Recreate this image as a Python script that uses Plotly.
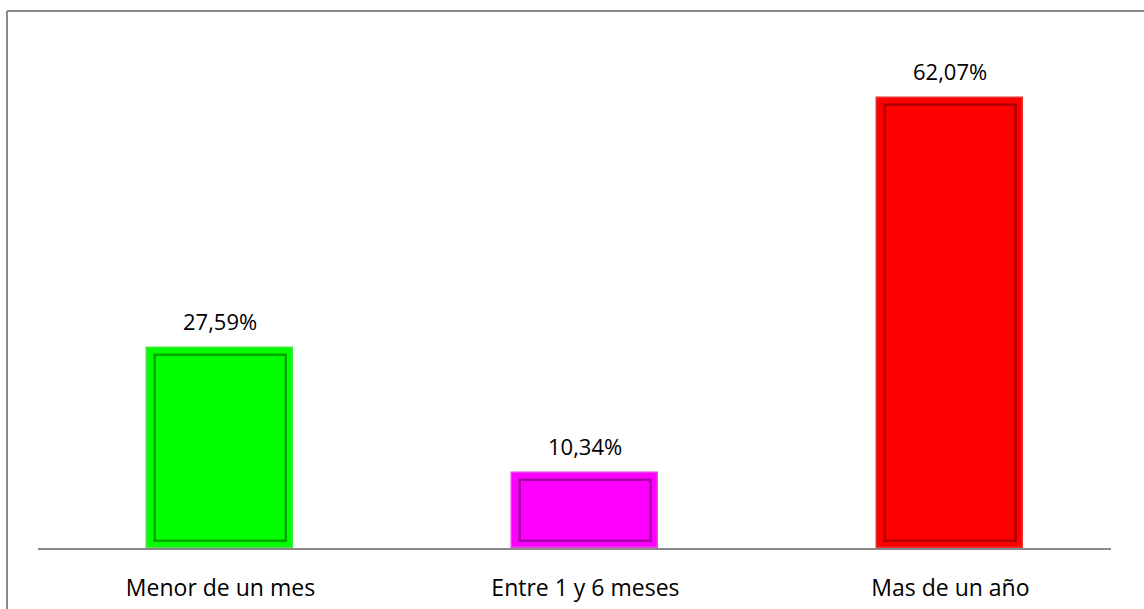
import plotly.graph_objects as go

categories = ["Menor de un mes", "Entre 1 y 6 meses", "Mas de un año"]
values = [27.59, 10.34, 62.07]
labels = ["27,59%", "10,34%", "62,07%"]
fill_colors = ["#00FF00", "#FF00FF", "#FF0000"]
edge_colors = ["#00A800", "#A800A8", "#B00000"]
rim_colors = ["#40E840", "#E840E8", "#E83030"]

Y_MIN = 0
Y_MAX = 71.45
INSET = 1.0

fig = go.Figure()

# outer bar
fig.add_trace(go.Bar(
    x=categories,
    y=values,
    base=Y_MIN,
    width=0.4,
    marker=dict(color=fill_colors, line=dict(color=rim_colors, width=1.5)),
    hoverinfo="skip",
))

# inner bevel
fig.add_trace(go.Bar(
    x=categories,
    y=[v - 2 * INSET for v in values],
    base=Y_MIN + INSET,
    width=0.357,
    marker=dict(color=fill_colors, line=dict(color=edge_colors, width=2.5)),
    hoverinfo="skip",
))

annotations = [
    dict(x=c, y=v, xref="x", yref="y", text=t, showarrow=False,
         yanchor="middle", yshift=27,
         font=dict(family="Open Sans", size=22, color="#000000"))
    for c, v, t in zip(categories, values, labels)
]

fig.update_layout(
    width=1144,
    height=609,
    margin=dict(l=38, r=33, t=30, b=61),
    paper_bgcolor="white",
    plot_bgcolor="white",
    barmode="overlay",
    showlegend=False,
    bargap=0,
    xaxis=dict(
        type="category",
        range=[-0.5, 2.44],
        automargin=False,
        showgrid=False,
        showline=True,
        linecolor="#888888",
        linewidth=1.5,
        ticks="outside",
        ticklen=19,
        tickcolor="rgba(0,0,0,0)",
        tickfont=dict(family="Open Sans", size=23, color="#000000"),
        fixedrange=True,
    ),
    yaxis=dict(
        range=[Y_MIN, Y_MAX],
        visible=False,
        automargin=False,
        fixedrange=True,
    ),
    annotations=annotations,
    shapes=[
        dict(type="line", xref="paper", yref="paper",
             x0=-0.0289, x1=-0.0289, y0=1.0367, y1=-0.2,
             line=dict(color="#888888", width=2)),
        dict(type="line", xref="paper", yref="paper",
             x0=-0.0289, x1=1.1, y0=1.0367, y1=1.0367,
             line=dict(color="#888888", width=2)),
    ],
)

fig.write_html("out.html")
